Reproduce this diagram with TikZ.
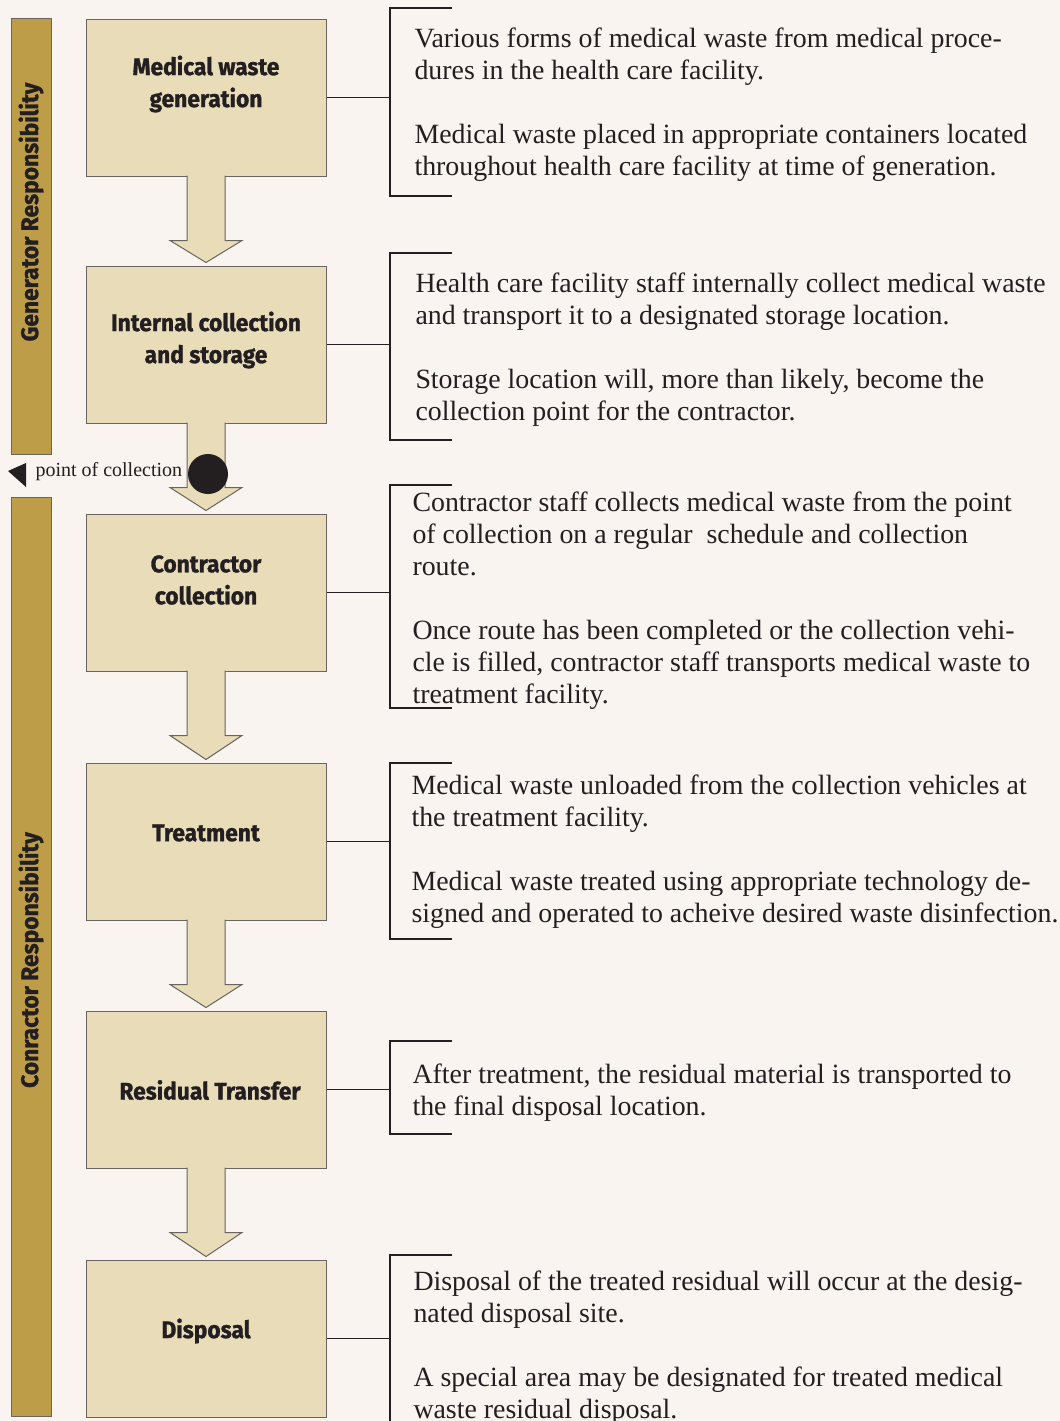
\documentclass[tikz,border=0pt]{standalone}
\usepackage{fontspec}
\setmainfont{Liberation Serif}
\newfontfamily\headfont[FakeStretch=0.95, BoldFeatures={FakeBold=1.2}]{Fira Sans}
\usetikzlibrary{calc}

\definecolor{paper}{RGB}{250,244,240}
\definecolor{bandgold}{RGB}{190,157,72}
\definecolor{boxtan}{RGB}{233,220,185}
\definecolor{edgegray}{RGB}{105,100,95}
\definecolor{inkblack}{RGB}{35,31,32}

\tikzset{every picture/.style={line width=0.75pt}}
\tikzset{
  stepbox/.style={draw=edgegray, fill=boxtan, minimum width=180pt, minimum height=117.75pt, inner sep=0pt},
  steptext/.style={font=\headfont\bfseries\fontsize{18}{24}\selectfont, align=center, text=inkblack, inner sep=0.75pt},
  flowarrow/.style={draw=edgegray, fill=boxtan, line join=miter},
  band/.style={draw=edgegray, fill=bandgold, minimum width=30pt, inner sep=0pt},
  bandtext/.style={font=\headfont\bfseries\fontsize{18}{20}\selectfont, rotate=90, text=inkblack, inner sep=0pt},
  desc/.style={font=\fontsize{20.9}{24}\selectfont, align=left, anchor=base west, inner sep=0pt, text=inkblack},
  brk/.style={draw=inkblack, line width=1.5pt, line join=miter},
  link/.style={draw=inkblack, line width=1.1pt}
}

\begin{document}
\begin{tikzpicture}[x=0.75pt,y=0.75pt,yscale=-1,xscale=1]
\useasboundingbox (0,0) rectangle (1060,1421);
\fill[paper] (0,0) rectangle (1060,1421);

% responsibility bands
\node[band, minimum height=327pt] (genband) at (31,236) {};
\node[band, minimum height=689.25pt] (conband) at (31,956.5) {};
\node[bandtext] (genresp) at (31,212) {Generator Responsibility};
\node[bandtext] (conresp) at (31,960) {Conractor Responsibility};

% step boxes
\node[stepbox] (gen) at (206,97.5) {};
\node[stepbox] (int) at (206,344.5) {};
\node[stepbox] (con) at (206,592.5) {};
\node[stepbox] (tre) at (206,841.5) {};
\node[stepbox] (res) at (206,1089.5) {};
\node[stepbox] (dis) at (206,1338.5) {};

% block arrows
\foreach \a/\b in {gen/int, int/con, con/tre, tre/res, res/dis}
  \draw[flowarrow] ($(\a.south)+(-19,-1)$) -- ($(\a.south)+(-19,64)$) -- ($(\a.south)+(-36,64)$) -- ($(\b.north)+(0,-3)$) -- ($(\a.south)+(36,64)$) -- ($(\a.south)+(19,64)$) -- ($(\a.south)+(19,-1)$);

% step labels
\node[steptext] (genlbl) at (206,84) {Medical waste\\generation};
\node[steptext] (intlbl) at (206,340) {Internal collection\\and storage};
\node[steptext] (conlbl) at (206,580) {Contractor\\collection};
\node[steptext] (trelbl) at (206,833) {Treatment};
\node[steptext] (reslbl) at (210,1090) {Residual Transfer};
\node[steptext] (dislbl) at (206,1331) {Disposal};

% point of collection
\node[circle, fill=inkblack, minimum size=30pt, inner sep=0pt] (poc) at (208,474) {};
\node[font=\fontsize{15}{18}\selectfont, anchor=base west, inner sep=0pt, text=inkblack] (poclbl) at (35,476) {point of collection};
\fill[inkblack] (8,471) -- (26,463) -- (26,487) -- cycle;

% brackets
\coordinate (b1t) at (390,8);    \coordinate (b1b) at (390,196);
\coordinate (b2t) at (390,253);  \coordinate (b2b) at (390,440);
\coordinate (b3t) at (390,485);  \coordinate (b3b) at (390,708);
\coordinate (b4t) at (390,763);  \coordinate (b4b) at (390,939);
\coordinate (b5t) at (390,1041); \coordinate (b5b) at (390,1134);
\coordinate (b6t) at (390,1255); \coordinate (b6b) at (390,1440);
\foreach \k in {1,...,6}
  \draw[brk] ($(b\k t)+(62,0)$) -- (b\k t) -- (b\k b) -- ($(b\k b)+(62,0)$);

% connectors
\draw[link] (gen.east) -- (gen.east -| b1t);
\draw[link] (int.east) -- (int.east -| b2t);
\draw[link] (con.east) -- (con.east -| b3t);
\draw[link] (tre.east) -- (tre.east -| b4t);
\draw[link] (res.east) -- (res.east -| b5t);
\draw[link] (dis.east) -- (dis.east -| b6t);

% descriptions (anchored at the baseline of the last line)
\node[desc] (gendesc) at (414,175) {Various forms of medical waste from medical proce-\\dures in the health care facility.\\[24pt]Medical waste placed in appropriate containers located\\throughout health care facility at time of generation.};
\node[desc] (intdesc) at (415,420) {Health care facility staff internally collect medical waste\\and transport it to a designated storage location.\\[24pt]Storage location will, more than likely, become the\\collection point for the contractor.};
\node[desc] (condesc) at (412,703) {Contractor staff collects medical waste from the point\\of collection on a regular\ \ schedule and collection\\route.\\[24pt]Once route has been completed or the collection vehi-\\cle is filled, contractor staff transports medical waste to\\treatment facility.};
\node[desc] (tredesc) at (411,922) {Medical waste unloaded from the collection vehicles at\\the treatment facility.\\[24pt]Medical waste treated using appropriate technology de-\\signed and operated to acheive desired waste disinfection.};
\node[desc] (resdesc) at (412,1115) {After treatment, the residual material is transported to\\the final disposal location.};
\node[desc] (disdesc) at (413,1418) {Disposal of the treated residual will occur at the desig-\\nated disposal site.\\[24pt]A special area may be designated for treated medical\\waste residual disposal.};

\end{tikzpicture}
\end{document}
